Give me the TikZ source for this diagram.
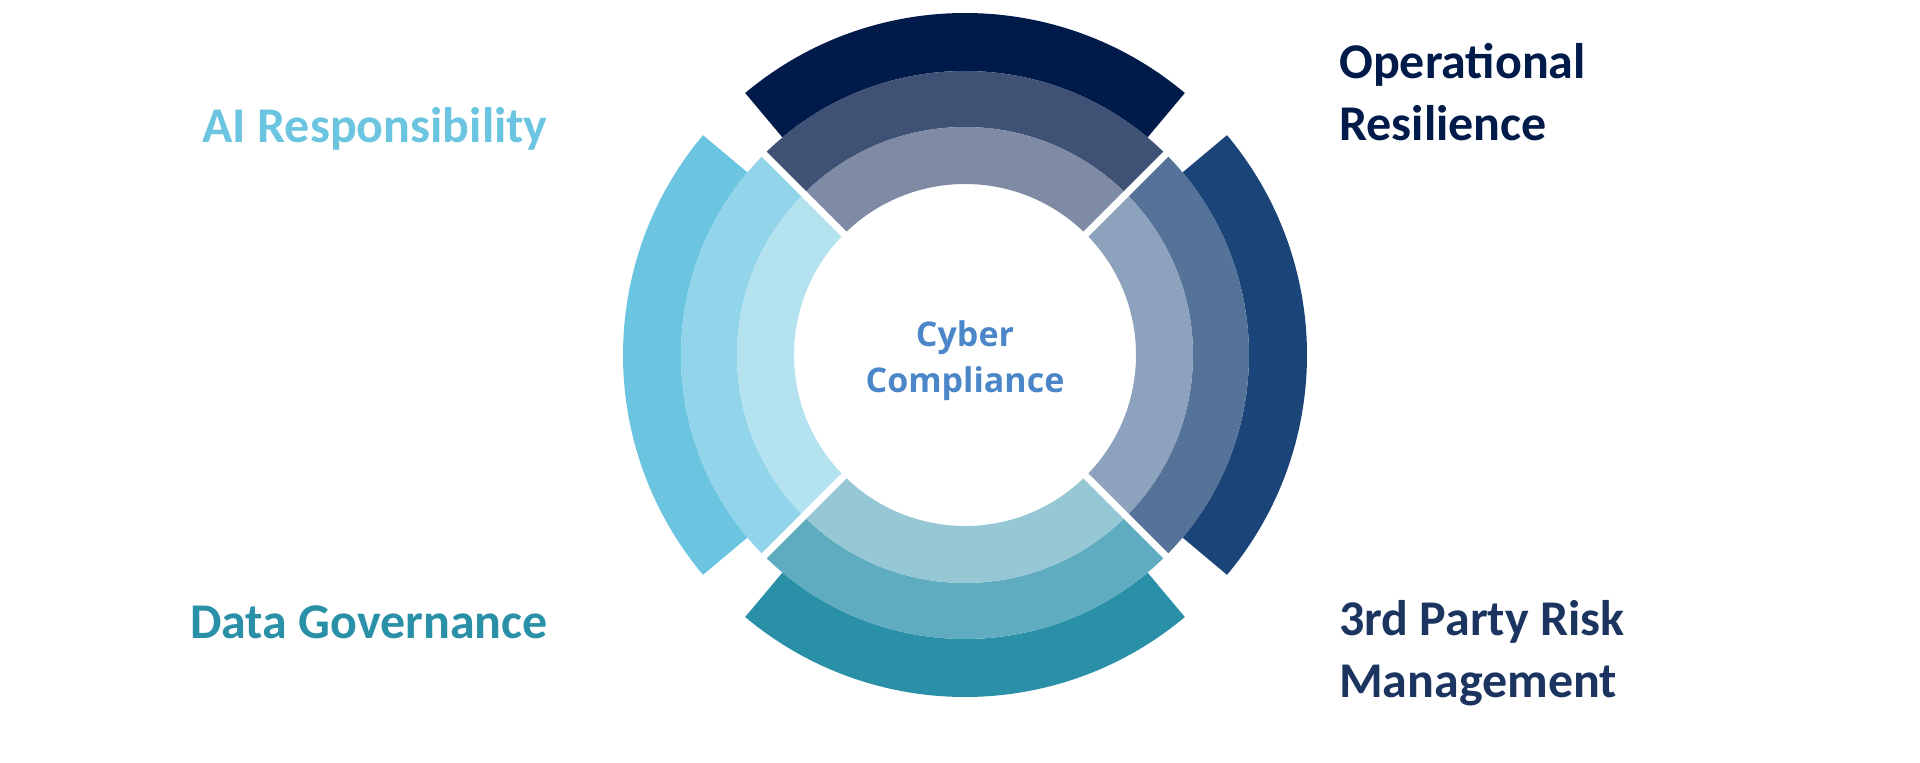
\documentclass[tikz,border=0pt]{standalone}
\usepackage{fontspec}
\setmainfont{Carlito}
\newfontfamily\ctrfont{Open Sans}
\begin{document}
\begin{tikzpicture}[x=1pt,y=1pt,
  lab/.style={font=\fontsize{50}{62}\selectfont\bfseries,align=left,inner sep=0pt},
  gap/.style={white,line width=7pt}]
\useasboundingbox (0,0) rectangle (1920,763);
\coordinate (c) at (965,408);
\def\R{342}\def\Ra{284}\def\Rb{228}\def\Rc{171}
\definecolor{t1}{HTML}{001A4A}\definecolor{t2}{HTML}{3F5275}\definecolor{t3}{HTML}{7F8BA5}
\definecolor{r1}{HTML}{1B4478}\definecolor{r2}{HTML}{557399}\definecolor{r3}{HTML}{8DA2BD}
\definecolor{b1}{HTML}{2A90A8}\definecolor{b2}{HTML}{5FACC0}\definecolor{b3}{HTML}{96C7D4}
\definecolor{l1}{HTML}{6CC5E0}\definecolor{l2}{HTML}{92D4E9}\definecolor{l3}{HTML}{B5E2EF}
\newcommand{\seg}[5]{\fill[#5] ([shift={(#1:#3)}]c) arc (#1:#2:#3) -- ([shift={(#2:#4)}]c) arc (#2:#1:#4) -- cycle;}
\foreach \a/\cA/\cB/\cC in {45/t1/t2/t3, -45/r1/r2/r3, -135/b1/b2/b3, 135/l1/l2/l3}{
  \pgfmathsetmacro{\s}{\a}\pgfmathsetmacro{\e}{\a+90}
  \pgfmathsetmacro{\so}{\a+5}\pgfmathsetmacro{\eo}{\a+85}
  \seg{\so}{\eo}{\R}{\Ra}{\cA}
  \seg{\s}{\e}{\Ra}{\Rb}{\cB}
  \seg{\s}{\e}{\Rb}{\Rc}{\cC}
}
\foreach \a in {45,135,225,315}{
  \draw[gap] ([shift={(\a:\Rc-2)}]c) -- ([shift={(\a:\R+5)}]c);
  \fill[white] ([shift={(\a:\R-8)}]c) circle (22);
}
\node[font=\ctrfont\fontsize{34}{46}\selectfont\bfseries,text=l1!40!blue!60!cyan,align=center,color={rgb,255:red,74;green,134;blue,200}] (ctr) at (965,402) {Cyber\\Compliance};
\node[lab,text=l1,anchor=center] (ai) at (375,634) {AI Responsibility};
\node[lab,text=t1,anchor=west] (op) at (1339,671) {Operational\\Resilience};
\node[lab,text=b1,anchor=center] (dg) at (369,141) {Data Governance};
\node[lab,text={rgb,255:red,27;green,53;blue,96},anchor=west] (tp) at (1339,110) {3rd Party Risk\\Management};
\end{tikzpicture}
\end{document}
